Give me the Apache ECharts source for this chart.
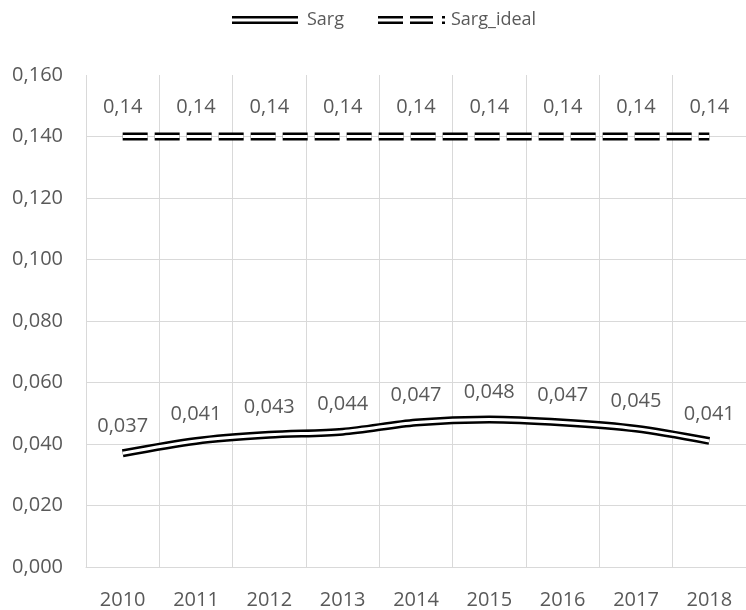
<!DOCTYPE html>
<html><head><meta charset="utf-8">
<script src="https://cdn.jsdelivr.net/npm/echarts@6/dist/echarts.min.js"></script>
<style>html,body{margin:0;padding:0;background:#fff}#c{width:746px;height:610px}</style>
</head><body><div id="c"></div>
<script>
const years = ['2010','2011','2012','2013','2014','2015','2016','2017','2018'];
const sarg = [0.037, 0.041, 0.043, 0.044, 0.047, 0.048, 0.047, 0.045, 0.041];
const sargIdeal = [0.14, 0.14, 0.14, 0.14, 0.14, 0.14, 0.14, 0.14, 0.14];
const yMin = 0, yMax = 0.16, yStep = 0.02;

const txt = '#595959', grid = '#d9d9d9', font = 'Open Sans', fs = 20;
const fmt = (v, d) => v.toFixed(d).replace('.', ',');
const iconSolid = 'path://M0,0H66V2.5H0Z M0,5.5H66V8H0Z';
const iconDash = 'path://M0,0H25V2.5H0Z M0,5.5H25V8H0Z M32,0H55V2.5H32Z M32,5.5H55V8H32Z M64,0H67V2.5H64Z M64,5.5H67V8H64Z';

const chart = echarts.init(document.getElementById('c'));
chart.setOption({
  animation: false,
  backgroundColor: '#fff',
  textStyle: { fontFamily: font },
  legend: [
    { data: [{ name: 'Sarg', icon: iconSolid }], left: 232, top: 11, padding: 0, itemWidth: 66, itemHeight: 8,
      textStyle: { color: txt, fontSize: 18, fontFamily: font, padding: [0, 0, 0, 4] }, itemGap: 0 },
    { data: [{ name: 'Sarg_ideal', icon: iconDash }], left: 378, top: 11, padding: 0, itemWidth: 67, itemHeight: 8,
      textStyle: { color: txt, fontSize: 18, fontFamily: font, padding: [0, 0, 0, 1] }, itemGap: 0 }
  ],
  grid: { left: 86, right: -6, top: 75, bottom: 43, containLabel: false },
  xAxis: {
    type: 'category', data: years, boundaryGap: true,
    axisLine: { lineStyle: { color: grid, width: 1 } },
    axisTick: { show: false },
    axisLabel: { color: txt, fontSize: fs, margin: 23, fontFamily: font },
    splitLine: { show: true, lineStyle: { color: grid, width: 1 } }
  },
  yAxis: {
    type: 'value', min: yMin, max: yMax, interval: yStep,
    axisLine: { show: false }, axisTick: { show: false },
    axisLabel: { color: txt, fontSize: fs, margin: 23, fontFamily: font, formatter: v => fmt(v, 3) },
    splitLine: { show: true, showMaxLine: false, lineStyle: { color: grid, width: 1 } }
  },
  series: [
    { name: 'Sarg', type: 'line', data: sarg, smooth: 0.3, symbol: 'circle', symbolSize: 0, showSymbol: true, color: '#000',
      lineStyle: { color: '#000', width: 8 },
      label: { show: true, position: 'top', distance: 17, color: txt, fontSize: fs, fontFamily: font, formatter: p => fmt(p.value, 3) } },
    { name: 'Sarg_w', type: 'line', data: sarg, smooth: 0.3, symbol: 'none', silent: true,
      lineStyle: { color: '#fff', width: 3 }, label: { show: false } },
    { name: 'Sarg_ideal', type: 'line', data: sargIdeal, symbol: 'circle', symbolSize: 0, showSymbol: true, color: '#000',
      lineStyle: { color: '#000', width: 8, type: [25, 7] },
      label: { show: true, position: 'top', distance: 19, color: txt, fontSize: fs, fontFamily: font, formatter: p => fmt(p.value, 2) } },
    { name: 'Sarg_ideal_w', type: 'line', data: sargIdeal, symbol: 'none', silent: true,
      lineStyle: { color: '#fff', width: 3, type: [25, 7] }, label: { show: false } }
  ]
});
</script></body></html>
